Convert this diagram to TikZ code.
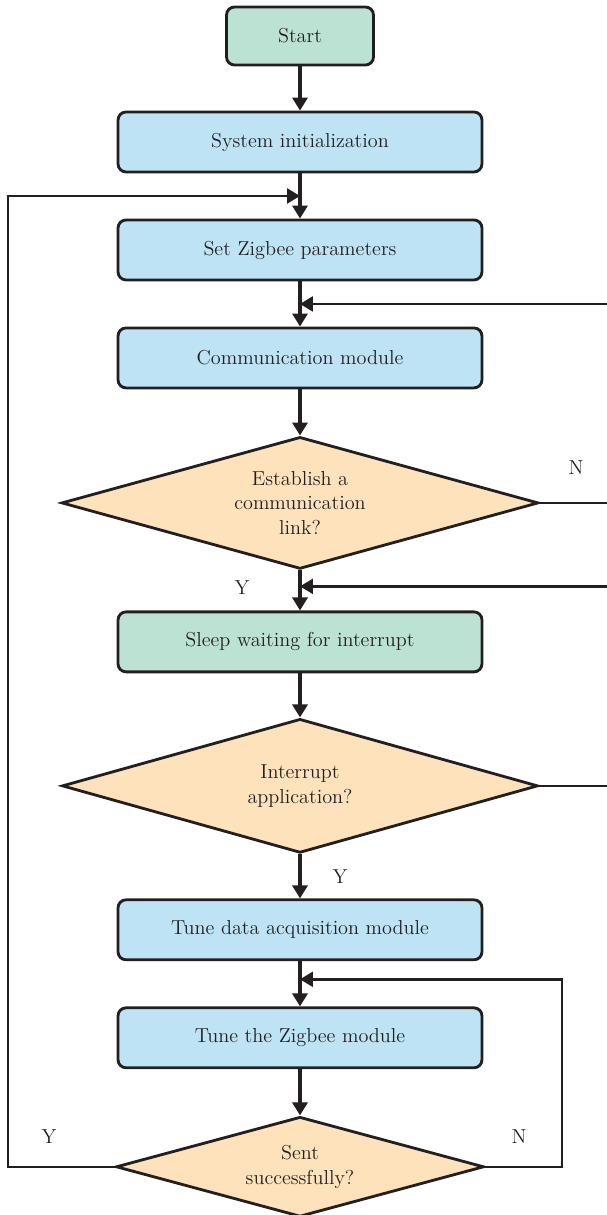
\documentclass[tikz,border=0pt]{standalone}
\usepackage{tikz}
\usetikzlibrary{shapes,arrows,arrows.meta,positioning,calc}
\definecolor{boxblue}{HTML}{BDE3F5}
\definecolor{boxgreen}{HTML}{BCE2D3}
\definecolor{decorange}{HTML}{FDE2BB}
\definecolor{inkdark}{HTML}{231F20}
\tikzstyle{block} = [draw=inkdark, fill=boxblue, rectangle, rounded corners=0.16cm, line width=1.6pt, minimum height=1.2cm, minimum width=7.28cm, text=inkdark, font=\fontsize{11.5}{14}\selectfont]
\tikzstyle{term} = [block, fill=boxgreen]
\tikzstyle{decision} = [draw=inkdark, fill=decorange, diamond, aspect=3.6, inner sep=0pt, line width=1.6pt, align=center, text=inkdark, font=\fontsize{11.5}{14}\selectfont]
\tikzstyle{tag} = [text=inkdark, font=\fontsize{11.5}{14}\selectfont]
\tikzstyle{flow} = [->, draw=inkdark, line width=1.8pt]
\tikzstyle{loop} = [->, draw=inkdark, line width=1.4pt]
\tikzstyle{thin} = [draw=inkdark, line width=1pt]

\begin{document}
\begin{tikzpicture}[x=0.02cm, y=-0.02cm, node distance=2.16cm, >={Triangle[length=2.6mm,width=3mm]}]
    \useasboundingbox (0,0) rectangle (607,1215);
    % Blocks
    \node [term, minimum width=2.94cm, minimum height=1.16cm] (start) at (300,36) {Start};
    \node [block, below of=start, node distance=2.12cm] (init) {System initialization};
    \node [block, below of=init] (setzig) {Set Zigbee parameters};
    \node [block, below of=setzig] (comm) {Communication module};
    \node [decision, below of=comm, node distance=2.9cm, minimum width=9.54cm, minimum height=2.64cm] (link) {Establish a\\communication\\link?};
    \node [term, below of=link, node distance=2.78cm] (sleep) {Sleep waiting for interrupt};
    \node [decision, below of=sleep, node distance=2.88cm, minimum width=9.52cm, minimum height=2.68cm] (irq) {Interrupt\\application?};
    \node [block, below of=irq, node distance=2.88cm] (acq) {Tune data acquisition module};
    \node [block, below of=acq] (zig) {Tune the Zigbee module};
    \node [decision, below of=zig, node distance=2.58cm, minimum width=7.36cm, minimum height=2cm] (sent) {Sent\\successfully?};

    % Joints and rails
    \coordinate (j1) at ($(init.south)!0.5!(setzig.north)$);
    \coordinate (j2) at ($(setzig.south)!0.5!(comm.north)$);
    \coordinate (j3) at ($(link.south)!0.4!(sleep.north)$);
    \coordinate (j4) at ($(acq.south)!0.4!(zig.north)$);
    \coordinate (lrail) at (8,0);
    \coordinate (rrail) at (562,0);
    \coordinate (edge) at (607,0);

    % Labels
    \node [tag] (ylink) at (242,588) {Y};
    \node [tag] (nlink) at (576,468) {N};
    \node [tag] (yirq) at (340,877) {Y};
    \node [tag] (ysent) at (49,1137) {Y};
    \node [tag] (nsent) at (519,1137) {N};

    % Connections
    \draw [flow] (start) -- (init);
    \draw [flow] (init) -- (setzig);
    \draw [flow] (setzig) -- (comm);
    \draw [flow] (comm) -- (link);
    \draw [flow] (link) -- (sleep);
    \draw [flow] (sleep) -- (irq);
    \draw [flow] (irq) -- (acq);
    \draw [flow] (acq) -- (zig);
    \draw [flow] (zig) -- (sent);
    \draw [thin] (link.east) -- (link.east -| edge);
    \draw [thin] (irq.east) -- (irq.east -| edge);
    \draw [loop] (j2 -| edge) -- (j2);
    \draw [loop] (j3 -| edge) -- (j3);
    \draw [loop] (sent.west) -| (lrail |- j1) -- (j1);
    \draw [loop] (sent.east) -| (rrail |- j4) -- (j4);
\end{tikzpicture}
\end{document}
